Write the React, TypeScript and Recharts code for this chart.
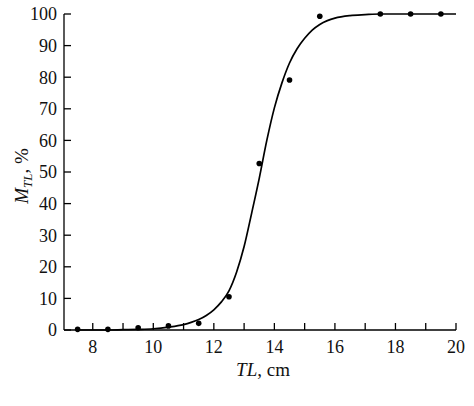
import React from 'react'
import {
  ComposedChart,
  Line,
  Scatter,
  XAxis,
  YAxis,
  Label,
} from 'recharts'

// observed maturity points (TL, cm -> M_TL, %)
const obsTL = [7.5, 8.5, 9.5, 10.5, 11.5, 12.5, 13.5, 14.5, 15.5, 17.5, 18.5, 19.5]
const obsM = [0.2, 0.2, 0.7, 1.3, 2.1, 10.5, 52.7, 79.1, 99.3, 100, 100, 100]

// fitted curve
const curveTL = [7.5, 8, 8.5, 9, 9.5, 10, 10.5, 11, 11.25, 11.5, 11.75, 12, 12.25, 12.5, 12.75, 13, 13.25, 13.5, 13.75, 14, 14.25, 14.5, 14.75, 15, 15.25, 15.5, 15.75, 16, 16.5, 17, 17.5, 18, 19, 20]
const curveM = [0, 0, 0, 0.1, 0.2, 0.4, 0.9, 1.7, 2.4, 3.3, 4.6, 6.4, 8.9, 12.4, 18.3, 26.4, 37, 48, 60, 70.3, 78.2, 84.5, 89, 92.3, 94.9, 96.7, 97.9, 98.7, 99.5, 99.8, 100, 100, 100, 100]

const xTicks = [8, 9, 10, 11, 12, 13, 14, 15, 16, 17, 18, 19, 20]
const yTicks = [0, 10, 20, 30, 40, 50, 60, 70, 80, 90, 100]

const points = obsTL.map((x, i) => ({ x, y: obsM[i] }))
const curve = curveTL.map((x, i) => ({ x, y: curveM[i] }))

const font = 'Times New Roman, Liberation Serif, serif'

export default function App() {
  return (
    <div style={{ position: 'fixed', left: 0, top: 0, background: '#fff', fontFamily: font }}>
      <ComposedChart
        width={474}
        height={406}
        margin={{ top: 14, right: 18, left: 0, bottom: 0 }}
        style={{ fontFamily: font }}
      >
        <XAxis
          type="number"
          dataKey="x"
          domain={[7.05, 20]}
          ticks={xTicks}
          interval={0}
          tickFormatter={(v) => (v % 2 === 0 ? String(v) : '')}
          height={76}
          tickSize={-7}
          tickMargin={17}
          stroke="#000"
          strokeWidth={1.3}
          tick={{ fill: '#111', fontSize: 18, fontFamily: font }}
          allowDataOverflow
        >
          <Label
            content={() => (
              <text x={263} y={376} textAnchor="middle" fontFamily={font} fontSize={19} fill="#111">
                <tspan fontStyle="italic">TL</tspan>
                <tspan>, cm</tspan>
              </text>
            )}
          />
        </XAxis>
        <YAxis
          type="number"
          dataKey="y"
          domain={[0, 100]}
          ticks={yTicks}
          interval={0}
          width={64}
          tickSize={-7}
          tickMargin={14}
          stroke="#000"
          strokeWidth={1.3}
          tick={{ fill: '#111', fontSize: 18, fontFamily: font }}
        >
          <Label
            content={() => (
              <text
                x={0}
                y={0}
                transform="translate(28,176) rotate(-90)"
                textAnchor="middle"
                fontFamily={font}
                fontSize={19}
                fill="#111"
              >
                <tspan fontStyle="italic">M</tspan>
                <tspan fontStyle="italic" fontSize={13} dy={4}>TL</tspan>
                <tspan dy={-4}>, %</tspan>
              </text>
            )}
          />
        </YAxis>
        <Line
          data={curve}
          dataKey="y"
          type="monotone"
          stroke="#000"
          strokeWidth={1.7}
          dot={false}
          activeDot={false}
          isAnimationActive={false}
        />
        <Scatter
          data={points}
          dataKey="y"
          fill="#000"
          shape={(p: any) => <circle cx={p.cx} cy={p.cy} r={2.8} fill="#000" />}
          isAnimationActive={false}
        />
      </ComposedChart>
    </div>
  )
}
